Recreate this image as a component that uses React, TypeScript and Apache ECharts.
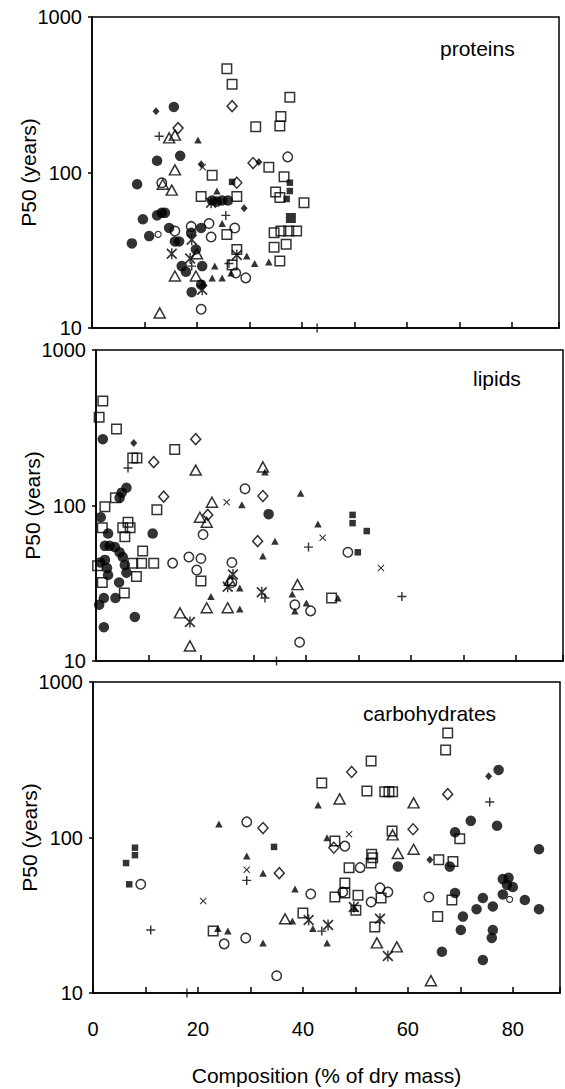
import React, { useEffect, useRef } from "react";
import * as echarts from "echarts";

type Pt = [number, number];

const FONT = "'Liberation Sans', Arial, sans-serif";

// Panel titles and axis texts
const panelTitles = ["proteins", "lipids", "carbohydrates"];
const xTitle = "Composition (% of dry mass)";
const yTitle = "P50 (years)";

// ---------- proteins ----------
const proteinsFilledCircle: Pt[] = [[15.6,264],[8.6,84],[12.4,119],[16.8,128],[7.6,35],[9.7,50],[10.9,39],[12.4,53],[13.3,55],[13.9,55],[14.7,44],[15.8,36],[16.6,36],[17.1,25],[17.9,23],[18.9,41],[19.8,32],[20.8,44],[21,25],[19,17],[20.8,19],[22.9,66],[23.8,65],[24.8,66],[25.9,66]];
const proteinsOpenCircle: Pt[] = [[37.3,126],[13.3,86],[18.9,45],[22.3,47],[15.8,42],[22.7,38.5],[27.2,44],[27.4,22.6],[29.3,21],[20.8,13.2]];
const proteinsSmallOpenCircle: Pt[] = [[12.6,40]];
const proteinsOpenSquare: Pt[] = [[25.7,465],[26.7,370],[37.7,305],[31.2,197],[36,229],[35.8,199],[33.7,108],[22.9,96],[20.8,70],[27.6,70],[25.7,40],[27.6,32],[26.7,25.4],[36.6,94],[35,75],[35.8,69],[34.7,41],[36,42],[37.5,42],[39,42],[40.4,64],[34.7,33],[37,34.5],[35.8,27]];
const proteinsFilledSquare: Pt[] = [[37.7,86],[37.7,76],[37.1,67.6],[26.7,87]];
const proteinsBigFilledSquare: Pt[] = [[37.9,51]];
const proteinsOpenDiamond: Pt[] = [[26.7,267],[16.4,193],[30.7,115],[27.6,86]];
const proteinsFilledDiamond: Pt[] = [[12.2,248],[31.8,117],[29,59],[20.8,113]];
const proteinsPlus: Pt[] = [[12.8,171],[25.5,53],[19,25],[26.1,26],[42.9,10]];
const proteinsOpenTriangle: Pt[] = [[14.7,167],[15.8,174],[15.8,104],[13.5,84],[15.2,77],[15.8,21.6],[19.8,21.6],[20,30],[12.9,12.5]];
const proteinsFilledTriangle: Pt[] = [[20.2,162],[23.8,76],[24.8,47],[23.4,25],[22.9,21],[24.8,21],[26.5,22.6],[29.5,29],[31,26],[33.7,26.6],[21.1,19.5]];
const proteinsAsterisk: Pt[] = [[15.2,30],[18.7,28],[21,17.6],[19,37],[22.7,64],[27.6,29.5]];
const proteinsCross: Pt[] = [[21.1,108]];

// ---------- lipids ----------
const lipidsFilledCircle: Pt[] = [[1.3,267],[5.8,130],[4.9,121],[4.5,112],[0.9,84],[2.3,66],[10.8,66],[1.7,55],[2.6,55],[3.6,54],[4.5,50],[5.1,46.6],[1.7,44.7],[0.8,43],[2.1,39.6],[2.3,35.7],[5.8,37],[5.5,41.4],[4.4,32],[3.7,25.4],[1.5,25.4],[0.6,23],[1.5,16.5],[7.4,19.2],[32.9,88]];
const lipidsOpenCircle: Pt[] = [[28.4,128],[20.4,65],[17.7,46.6],[20,45.6],[19.2,38.5],[14.6,42.6],[25.9,43],[48,50],[37.9,23],[40.9,21],[38.8,13.2],[25.9,32]];
const lipidsSmallOpenCircle: Pt[] = [];
const lipidsOpenSquare: Pt[] = [[1.3,470],[0.6,370],[3.9,310],[15,229],[7,202],[7.8,202],[1.7,98],[11.6,94],[3.7,112],[1.2,72],[6.1,78],[6.5,72],[5.1,72],[5.5,63],[8.9,51],[7,42.6],[8.7,42.6],[11,42.6],[0.3,41],[1.2,32],[7.7,35],[5.4,27.4],[20,32.7],[44.9,25.4]];
const lipidsFilledSquare: Pt[] = [[48.9,87],[48.9,77],[51.6,68.5],[49.9,50]];
const lipidsBigFilledSquare: Pt[] = [];
const lipidsOpenDiamond: Pt[] = [[19,267],[11,190],[12.9,114],[31.8,115],[21.3,87],[30.8,59]];
const lipidsFilledDiamond: Pt[] = [[7.2,252]];
const lipidsPlus: Pt[] = [[6.1,174],[32.2,25.4],[40.5,54],[58.3,26],[34.4,10]];
const lipidsOpenTriangle: Pt[] = [[19,169],[31.8,177],[22.1,105],[19.8,84],[21.1,78],[16,20.4],[21.1,22],[25.1,22],[17.9,12.5],[38.4,31],[25.5,33]];
const lipidsFilledTriangle: Pt[] = [[32.2,164],[27.8,101],[34.1,59],[31.8,47.4],[21.9,26],[27.4,21.6],[27.4,29.5],[37.4,27],[39,120],[42.3,76],[37.9,21],[40.1,23.6],[46.1,25.4]];
const lipidsAsterisk: Pt[] = [[17.9,17.8],[25.1,30],[26.1,36],[31.6,27.7]];
const lipidsCross: Pt[] = [[24.9,105],[43.2,62],[54.3,39.6]];

// ---------- carbohydrates ----------
const carbsFilledCircle: Pt[] = [[77.3,272],[72,128],[77,119],[69,108],[85,84],[58.1,65],[68,65],[78.1,54],[79.2,55],[80,48],[78.9,49.5],[69,44],[78.1,43],[74.3,40.8],[82.3,39.6],[76.2,36],[73.1,34.6],[85,34.6],[70.5,31],[70.1,25.4],[76.2,25.4],[76,22.6],[66.5,18.4],[74.3,16.3]];
const carbsOpenCircle: Pt[] = [[9.1,50],[29.3,126],[25,20.7],[29.1,22.6],[35,12.9],[48,88],[50.9,64],[41.5,43.3],[47.6,44.6],[53,38.5],[54.7,47.4],[56.2,44.6],[64,41.4]];
const carbsSmallOpenCircle: Pt[] = [[79.4,40]];
const carbsOpenSquare: Pt[] = [[22.9,25],[67.6,470],[67.2,365],[53,310],[43.6,224],[52.2,199],[55.6,197],[56.4,197],[57.1,197],[57,110],[69.9,98],[46.1,95],[53.1,78],[53.3,74],[53,68.5],[48.8,64],[65.9,72],[68.6,70],[48,51],[46.1,41.4],[48,44],[50.5,42.6],[50.1,34],[54.9,40.8],[68.4,39.6],[65.7,31],[40,32.7],[53.7,26.6]];
const carbsFilledSquare: Pt[] = [[6.3,68.5],[8,86],[8,77],[6.9,50],[34.5,87]];
const carbsBigFilledSquare: Pt[] = [];
const carbsOpenDiamond: Pt[] = [[32.4,115],[35.5,59],[49.3,264],[67.6,190],[61,113],[45.9,86]];
const carbsFilledDiamond: Pt[] = [[75.4,248],[64.2,72]];
const carbsPlus: Pt[] = [[11,25.4],[29.3,53],[17.9,10],[75.6,169],[43.6,25]];
const carbsOpenTriangle: Pt[] = [[36.6,30],[47,177],[61.1,167],[57.1,104],[58.1,79],[61.1,84],[54.1,21],[57.9,19.8],[64.4,12]];
const carbsFilledTriangle: Pt[] = [[24,122],[29.3,76],[32.4,59],[38.5,46.6],[23.8,26],[25.7,25],[32.4,21],[38,29],[42.9,162],[44.6,99.5],[41.9,26],[44.6,21],[49.9,35]];
const carbsAsterisk: Pt[] = [[41.1,29.5],[44.8,27.4],[49.7,35.7],[54.7,30],[56.2,17.3]];
const carbsCross: Pt[] = [[21,39],[29.3,62],[48.8,105]];

const panels: Record<string, Pt[]>[] = [
  {
    filledCircle: proteinsFilledCircle, filledSquare: proteinsFilledSquare, bigFilledSquare: proteinsBigFilledSquare,
    filledDiamond: proteinsFilledDiamond, filledTriangle: proteinsFilledTriangle, openCircle: proteinsOpenCircle,
    smallOpenCircle: proteinsSmallOpenCircle, openSquare: proteinsOpenSquare, openDiamond: proteinsOpenDiamond,
    openTriangle: proteinsOpenTriangle, plus: proteinsPlus, cross: proteinsCross, asterisk: proteinsAsterisk,
  },
  {
    filledCircle: lipidsFilledCircle, filledSquare: lipidsFilledSquare, bigFilledSquare: lipidsBigFilledSquare,
    filledDiamond: lipidsFilledDiamond, filledTriangle: lipidsFilledTriangle, openCircle: lipidsOpenCircle,
    smallOpenCircle: lipidsSmallOpenCircle, openSquare: lipidsOpenSquare, openDiamond: lipidsOpenDiamond,
    openTriangle: lipidsOpenTriangle, plus: lipidsPlus, cross: lipidsCross, asterisk: lipidsAsterisk,
  },
  {
    filledCircle: carbsFilledCircle, filledSquare: carbsFilledSquare, bigFilledSquare: carbsBigFilledSquare,
    filledDiamond: carbsFilledDiamond, filledTriangle: carbsFilledTriangle, openCircle: carbsOpenCircle,
    smallOpenCircle: carbsSmallOpenCircle, openSquare: carbsOpenSquare, openDiamond: carbsOpenDiamond,
    openTriangle: carbsOpenTriangle, plus: carbsPlus, cross: carbsCross, asterisk: carbsAsterisk,
  },
];

const open = { color: "rgba(255,255,255,0)", borderColor: "#000", borderWidth: 1.5 };
const solid = { color: "#000" };
const PLUS = "path://M4.2,0H5.8V4.2H10V5.8H5.8V10H4.2V5.8H0V4.2H4.2Z";
const CROSS = "path://M0,1.1L1.1,0L5,3.9L8.9,0L10,1.1L6.1,5L10,8.9L8.9,10L5,6.1L1.1,10L0,8.9L3.9,5Z";
const ASTER = "path://M0,1.1L1.1,0L5,3.9L8.9,0L10,1.1L6.1,5L10,8.9L8.9,10L5,6.1L1.1,10L0,8.9L3.9,5Z M4.35,0H5.65V10H4.35Z";

const MARKERS: Record<string, any> = {
  filledCircle: { symbol: "circle", symbolSize: 10.5, itemStyle: solid },
  filledSquare: { symbol: "rect", symbolSize: 6.5, itemStyle: solid },
  bigFilledSquare: { symbol: "rect", symbolSize: 10, itemStyle: solid },
  filledDiamond: { symbol: "diamond", symbolSize: [7, 8], itemStyle: solid },
  filledTriangle: { symbol: "triangle", symbolSize: [7.5, 7], itemStyle: solid },
  openCircle: { symbol: "circle", symbolSize: 9.5, itemStyle: open },
  smallOpenCircle: { symbol: "circle", symbolSize: 6, itemStyle: { ...open, borderWidth: 1.2 } },
  openSquare: { symbol: "rect", symbolSize: 9.5, itemStyle: open },
  openDiamond: { symbol: "diamond", symbolSize: [10, 11], itemStyle: open },
  openTriangle: { symbol: "triangle", symbolSize: [11, 10], itemStyle: open },
  plus: { symbol: PLUS, symbolSize: 9, itemStyle: solid },
  cross: { symbol: CROSS, symbolSize: 7, itemStyle: solid },
  asterisk: { symbol: ASTER, symbolSize: 11, itemStyle: solid },
};

const gridTops = [17, 350, 682];
const gridLefts = [92, 96, 93];

export default function App() {
  const ref = useRef<HTMLDivElement>(null);
  useEffect(() => {
    if (!ref.current) return;
    document.body.style.margin = "0";
    const chart = echarts.init(ref.current, undefined, { renderer: "svg" });
    const axisLine = { show: true, onZero: false, lineStyle: { color: "#000", width: 1.5 } };
    const series: any[] = [];
    panels.forEach((sets, i) => {
      Object.keys(MARKERS).forEach((k) => {
        const data = sets[k];
        if (!data || !data.length) return;
        series.push({
          type: "scatter",
          xAxisIndex: i,
          yAxisIndex: i,
          data,
          silent: true,
          ...MARKERS[k],
        });
      });
    });
    chart.setOption({
      animation: false,
      backgroundColor: "#fff",
      textStyle: { fontFamily: FONT },
      title: [
        { text: panelTitles[0], left: 440, top: 38 },
        { text: panelTitles[1], left: 473, top: 368 },
        { text: panelTitles[2], left: 363, top: 703 },
      ].map((t) => ({
        ...t,
        padding: 0,
        textStyle: { fontSize: 21, fontWeight: "normal", color: "#000", fontFamily: FONT },
      })),
      grid: gridTops.map((top, i) => ({
        left: gridLefts[i],
        top,
        width: 467,
        height: 311,
        show: true,
        borderColor: "#000",
        borderWidth: 1.5,
        backgroundColor: "transparent",
      })),
      xAxis: gridTops.map((_, i) => ({
        type: "value",
        gridIndex: i,
        min: 0,
        max: 89,
        interval: 10,
        axisLine,
        axisTick: { show: true, inside: true, length: 6, lineStyle: { color: "#000", width: 1.5 } },
        splitLine: { show: false },
        axisLabel: {
          show: i === 2,
          margin: 26,
          fontSize: 20,
          color: "#000",
          fontFamily: FONT,
          formatter: (v: number) => (v % 20 === 0 ? String(v) : ""),
        },
        name: i === 2 ? xTitle : "",
        nameLocation: "middle",
        nameGap: 72,
        nameMoveOverlap: false,
        nameTextStyle: { fontSize: 21, color: "#000", fontFamily: FONT },
      })),
      yAxis: gridTops.map((_, i) => ({
        type: "log",
        logBase: 10,
        gridIndex: i,
        min: 10,
        max: 1000,
        axisLine,
        axisTick: { show: true, inside: false, length: 4, lineStyle: { color: "#000", width: 1.5 } },
        splitLine: { show: false },
        minorTick: { show: false },
        axisLabel: {
          margin: 10,
          fontSize: 20,
          color: "#000",
          fontFamily: FONT,
          formatter: (v: number) => String(Math.round(v)),
        },
        name: yTitle,
        nameLocation: "middle",
        nameGap: 53,
        nameMoveOverlap: false,
        nameTextStyle: { fontSize: 21, color: "#000", fontFamily: FONT },
      })),
      series,
    });
    return () => chart.dispose();
  }, []);
  return (
    <div
      ref={ref}
      style={{ position: "absolute", left: 0, top: 0, width: 565, height: 1089 }}
    />
  );
}
